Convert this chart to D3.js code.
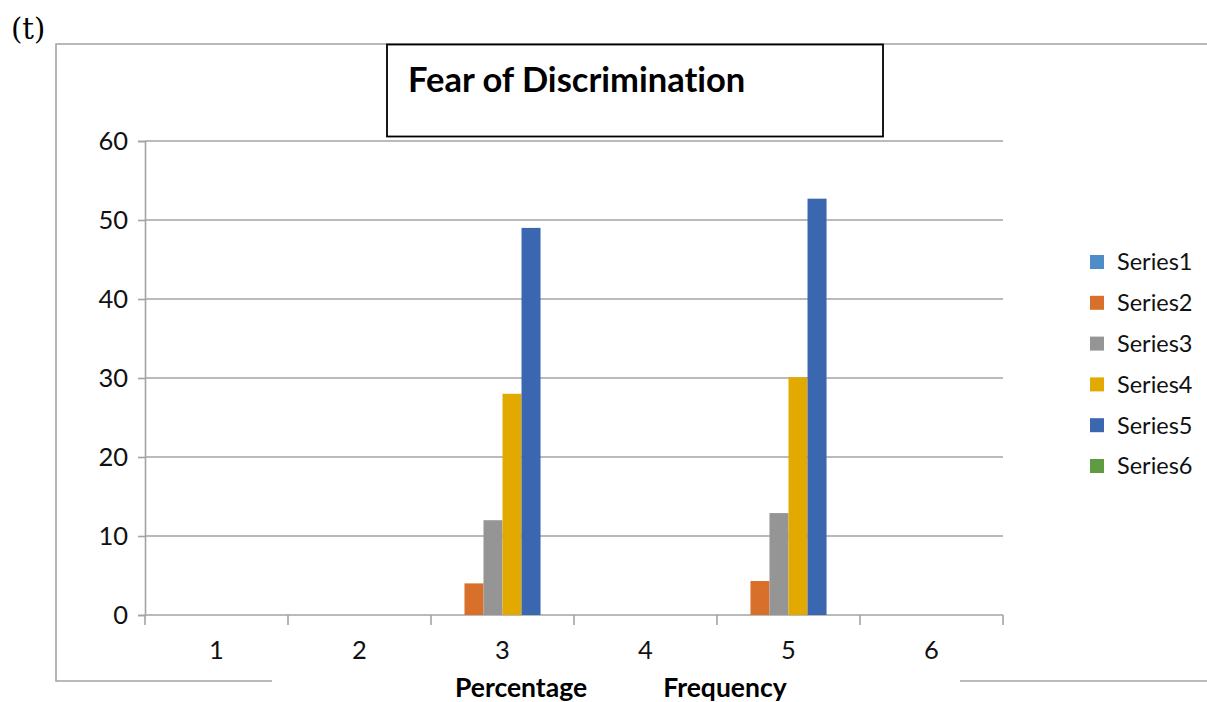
<!DOCTYPE html>
<html>
<head>
<meta charset="utf-8">
<script src="https://cdnjs.cloudflare.com/ajax/libs/d3/7.8.5/d3.min.js"></script>
<style>
  html, body { margin: 0; padding: 0; background: #fff; }
  svg { display: block; }
  text { font-variant-ligatures: none; font-feature-settings: "liga" 0; }
</style>
</head>
<body>
<svg id="chart" width="1207" height="702"></svg>
<script>
// Category labels along the x axis
const categories = ["1", "2", "3", "4", "5", "6"];
// Series names shown in the legend
const seriesNames = ["Series1", "Series2", "Series3", "Series4", "Series5", "Series6"];
// Values per series across the six categories (null = no bar)
const series1 = [null, null, 0, null, 0, null];
const series2 = [null, null, 4, null, 4.3, null];
const series3 = [null, null, 12, null, 12.9, null];
const series4 = [null, null, 28, null, 30.1, null];
const series5 = [null, null, 49, null, 52.7, null];
const series6 = [null, null, 0, null, 0, null];
const yTicks = [0, 10, 20, 30, 40, 50, 60];
const seriesColors = ["#4F8DC9", "#D8702C", "#959595", "#E2AA00", "#3B67B1", "#5E9B43"];

const seriesValues = [series1, series2, series3, series4, series5, series6];

const FONT = "Lato, 'Open Sans', sans-serif";
const svg = d3.select("#chart");

const plot = { left: 145, right: 1003, top: 141, bottom: 615 };

const x0 = d3.scaleBand().domain(categories).range([plot.left, plot.right]).padding(0);
const x1 = d3.scaleBand().domain(seriesNames).range([0, x0.bandwidth()])
  .paddingInner(0).paddingOuter(0.76);
const y = d3.scaleLinear().domain([0, 60]).range([plot.bottom, plot.top]);

const grey = "#A3A3A3";

// Outer chart frame (open at the bottom middle and the right)
const frame = svg.append("g").attr("stroke", grey).attr("stroke-width", 1.6).attr("fill", "none");
frame.append("path").attr("d", "M1207,44 H56 V681 H272");
frame.append("path").attr("d", "M960,681 H1207");

// Horizontal gridlines
svg.append("g").selectAll("line").data(yTicks.slice(1)).join("line")
  .attr("x1", plot.left).attr("x2", plot.right)
  .attr("y1", d => y(d)).attr("y2", d => y(d))
  .attr("stroke", grey).attr("stroke-width", 1.6);

// Y axis
const yAxis = svg.append("g").attr("transform", `translate(${plot.left},0)`)
  .call(d3.axisLeft(y).tickValues(yTicks).tickSize(7).tickPadding(10));
yAxis.select(".domain").attr("stroke", grey).attr("stroke-width", 1.6);
yAxis.selectAll(".tick line").attr("stroke", grey).attr("stroke-width", 1.6);
yAxis.selectAll(".tick text").attr("font-family", FONT).attr("font-size", 25.5).attr("fill", "#111");

// X axis baseline and category boundary ticks
svg.append("line").attr("x1", plot.left).attr("x2", plot.right)
  .attr("y1", y(0)).attr("y2", y(0)).attr("stroke", grey).attr("stroke-width", 1.6);
const bounds = categories.map(c => x0(c)).concat([x0(categories[categories.length - 1]) + x0.bandwidth()]);
svg.append("g").selectAll("line").data(bounds).join("line")
  .attr("x1", d => d).attr("x2", d => d)
  .attr("y1", y(0)).attr("y2", y(0) + 10)
  .attr("stroke", grey).attr("stroke-width", 1.6);
svg.append("g").selectAll("text").data(categories).join("text")
  .attr("x", d => x0(d) + x0.bandwidth() / 2)
  .attr("y", y(0) + 44)
  .attr("text-anchor", "middle")
  .attr("font-family", FONT).attr("font-size", 25.5).attr("fill", "#111")
  .text(d => d);

// Bars
const barData = [];
categories.forEach((c, ci) => {
  seriesNames.forEach((s, si) => {
    const v = seriesValues[si][ci];
    if (v !== null) barData.push({ c, s, v, color: seriesColors[si] });
  });
});
svg.append("g").selectAll("rect").data(barData).join("rect")
  .attr("x", d => x0(d.c) + x1(d.s))
  .attr("width", x1.bandwidth())
  .attr("y", d => y(d.v))
  .attr("height", d => y(0) - y(d.v))
  .attr("fill", d => d.color);

// Title box
svg.append("rect").attr("x", 387).attr("y", 44.5).attr("width", 496).attr("height", 92)
  .attr("fill", "#fff").attr("stroke", "#000").attr("stroke-width", 1.8);
svg.append("text").attr("x", 408).attr("y", 92)
  .attr("font-family", FONT).attr("font-weight", "bold").attr("font-size", 34.5).attr("fill", "#000")
  .text("Fear of Discrimination");

// Legend
const legend = svg.append("g").selectAll("g").data(seriesNames).join("g")
  .attr("transform", (d, i) => `translate(1090,${262 + i * 40.8})`);
legend.append("rect").attr("x", 0).attr("y", -7).attr("width", 14).attr("height", 14)
  .attr("fill", (d, i) => seriesColors[i]);
legend.append("text").attr("x", 27).attr("y", 0).attr("dy", "0.36em")
  .attr("font-family", FONT).attr("font-size", 23.5).attr("fill", "#111")
  .text(d => d);

// Axis captions under the category labels
svg.append("text").attr("x", 521).attr("y", 697).attr("text-anchor", "middle")
  .attr("font-family", FONT).attr("font-weight", "bold").attr("font-size", 26.5).attr("fill", "#000")
  .text("Percentage");
svg.append("text").attr("x", 725).attr("y", 697).attr("text-anchor", "middle")
  .attr("font-family", FONT).attr("font-weight", "bold").attr("font-size", 26.5).attr("fill", "#000")
  .text("Frequency");

// Panel letter
svg.append("text").attr("x", 11).attr("y", 39)
  .attr("font-family", "'DejaVu Serif', 'Liberation Serif', serif").attr("font-size", 29).attr("fill", "#000")
  .text("(t)");
</script>
</body>
</html>
